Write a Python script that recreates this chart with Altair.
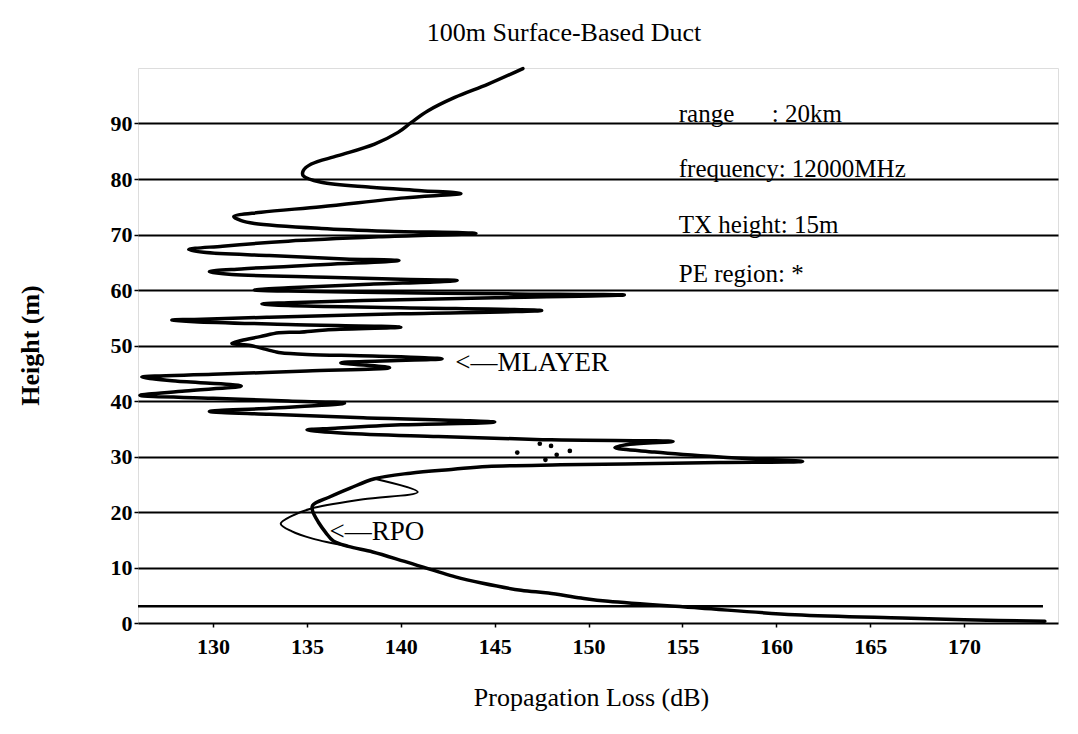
import altair as alt
import pandas as pd

# ---- main PE curve (propagation loss in dB vs height in m), read top to bottom ----
pe_loss = [146.5, 144.65, 142.87, 141.45, 140.56, 139.85, 138.6, 136.65, 135.23, 134.8, 134.8,
           135.76, 138.4, 141.1, 143.2, 140.2, 135.76, 132.56, 131.1, 131.5, 132.2, 135.76, 139.3,
           144.0, 139.0, 134.0, 130.5, 128.7, 129.5, 133.0, 137.0, 139.9, 136.0, 131.5, 129.8,
           131.0, 136.0, 140.0, 143.0, 138.0, 134.0, 132.2, 134.0, 140.0, 146.0, 151.9, 145.0,
           138.0, 134.0, 132.6, 134.0, 140.0, 147.5, 140.0, 133.0, 129.0, 127.8, 129.0, 134.0,
           140.0, 136.0, 134.6, 133.5, 132.5, 131.5, 131.0, 132.0, 132.7, 133.3, 133.6, 135.0,
           138.5, 142.2, 139.0, 136.8, 139.4, 135.0, 130.0, 126.2, 128.0, 131.5, 128.5, 126.1,
           130.0, 134.0, 137.0, 133.0, 129.8, 133.0, 138.0, 145.0, 140.0, 136.5, 135.0, 137.0,
           142.0, 148.0, 154.5, 152.2, 151.4, 153.5, 157.0, 161.4, 157.0, 152.7, 148.5, 144.6,
           142.8, 140.5, 138.6, 137.3, 136.2, 135.3, 135.3, 135.6, 136.0, 136.4, 137.2, 138.5,
           140.2, 142.9, 144.3, 146.4, 147.85, 149.6, 151.05, 155.9, 161.0, 166.7, 170.0, 174.3]
pe_height = [99.9, 97.1, 94.7, 92.3, 90.2, 88.4, 86.3, 84.2, 82.7, 81.5, 80.6,
             79.4, 78.5, 77.9, 77.4, 76.6, 75.0, 74.0, 73.2, 72.5, 72.0, 71.1, 70.6,
             70.2, 69.6, 68.8, 67.9, 67.3, 66.8, 66.2, 65.6, 65.3, 64.6, 63.8, 63.3,
             62.8, 62.3, 61.95, 61.7, 61.0, 60.4, 60.0, 59.8, 59.5, 59.3, 59.1, 58.6,
             58.1, 57.7, 57.5, 57.2, 56.8, 56.3, 55.7, 55.1, 54.7, 54.6, 54.3, 53.8,
             53.3, 52.8, 52.4, 52.3, 51.6, 50.9, 50.4, 50.0, 49.4, 48.9, 48.7, 48.4,
             48.1, 47.6, 47.2, 46.9, 46.0, 45.4, 44.8, 44.3, 43.6, 42.7, 41.8, 41.0,
             40.5, 40.0, 39.6, 38.7, 38.1, 37.6, 37.0, 36.2, 35.7, 35.1, 34.8, 34.2,
             33.6, 33.0, 32.7, 32.2, 31.6, 30.8, 29.9, 29.1, 28.9, 28.7, 28.5, 28.2,
             27.7, 27.0, 26.0, 24.3, 22.7, 21.2, 20.2, 18.2, 16.3, 14.8, 13.8, 12.8,
             11.1, 8.3, 7.2, 5.9, 5.4, 4.5, 3.9, 2.7, 1.5, 0.9, 0.6, 0.3]

# ---- thin loop below the duct (the RPO region) ----
thin_loss = [138.6, 140.9, 138.0, 135.2, 134.2, 133.6, 134.2, 135.3, 137.2]
thin_height = [26.0, 23.6, 22.3, 20.6, 19.3, 17.9, 16.5, 15.2, 13.8]

# ---- scattered PE markers near 30 m ----
dot_loss = [147.4, 148.0, 149.0, 147.7, 148.3, 146.2]
dot_height = [32.3, 31.9, 31.0, 29.4, 30.3, 30.7]

# ---- horizontal reference line at about 3 m ----
ref_height = [3.0]
ref_start = [126.0]
ref_end = [174.2]

# ---- annotations ----
NB = "\u00a0"
info_text = ["range" + NB * 6 + ": 20km", "frequency: 12000MHz", "TX height: 15m", "PE region: *"]
info_loss = [154.8, 154.8, 154.8, 154.8]
info_height = [90.0, 80.0, 70.0, 61.0]

mark_text = ["<\u2014MLAYER", "<\u2014RPO"]
mark_loss = [142.9, 136.2]
mark_height = [46.9, 16.4]

x_ticks = [130, 135, 140, 145, 150, 155, 160, 165, 170]
y_ticks = [0, 10, 20, 30, 40, 50, 60, 70, 80, 90]

FONT = "Liberation Serif"

pe_df = pd.DataFrame({"loss": pe_loss, "height": pe_height, "i": range(len(pe_loss))})
thin_df = pd.DataFrame({"loss": thin_loss, "height": thin_height, "i": range(len(thin_loss))})
dot_df = pd.DataFrame({"loss": dot_loss, "height": dot_height})
ref_df = pd.DataFrame({"x1": ref_start, "x2": ref_end, "h": ref_height})
info_df = pd.DataFrame({"t": info_text, "loss": info_loss, "height": info_height})
mark_df = pd.DataFrame({"t": mark_text, "loss": mark_loss, "height": mark_height})

xscale = alt.Scale(domain=[126, 175], nice=False, zero=False)
yscale = alt.Scale(domain=[0, 100], nice=False, zero=False)

x_axis = alt.Axis(values=x_ticks, grid=False, domain=False, ticks=True, tickSize=4,
                  tickColor="black", tickWidth=1.5, labelFont=FONT, labelFontSize=22,
                  labelFontWeight="bold", labelColor="black", labelPadding=9,
                  title="Propagation Loss (dB)", titleFont=FONT, titleFontSize=26,
                  titleFontWeight="normal", titleColor="black", titleY=74,
                  titleBaseline="middle", titleX=453)
y_axis = alt.Axis(values=y_ticks, grid=True, gridColor="black", gridWidth=2.2, gridOpacity=1,
                  domain=False, ticks=True, tickSize=4, tickColor="black", tickWidth=1.5,
                  labelFont=FONT, labelFontSize=22, labelFontWeight="bold", labelColor="black",
                  labelPadding=2, title="Height (m)", titleFont=FONT, titleFontSize=26,
                  titleFontWeight="bold", titleColor="black", titleAngle=270,
                  titleX=-108, titleY=277, titleBaseline="middle")

base_x = alt.X("loss:Q", scale=xscale, axis=x_axis)
base_y = alt.Y("height:Q", scale=yscale, axis=y_axis)

pe_line = alt.Chart(pe_df).mark_line(color="black", strokeWidth=3.5, strokeJoin="round",
                                     strokeCap="round", interpolate="catmull-rom").encode(
    x=base_x, y=base_y, order="i:Q")
thin_line = alt.Chart(thin_df).mark_line(color="black", strokeWidth=2, strokeJoin="round",
                                         interpolate="catmull-rom").encode(
    x=alt.X("loss:Q", scale=xscale), y=alt.Y("height:Q", scale=yscale), order="i:Q")
dots = alt.Chart(dot_df).mark_circle(color="black", size=22, opacity=1).encode(
    x=alt.X("loss:Q", scale=xscale), y=alt.Y("height:Q", scale=yscale))
ref_rule = alt.Chart(ref_df).mark_rule(color="black", strokeWidth=2.5).encode(
    x=alt.X("x1:Q", scale=xscale), x2="x2:Q", y=alt.Y("h:Q", scale=yscale))
info = alt.Chart(info_df).mark_text(align="left", baseline="alphabetic", dy=-2, font=FONT,
                                    fontSize=25, color="black").encode(
    x=alt.X("loss:Q", scale=xscale), y=alt.Y("height:Q", scale=yscale), text="t:N")
marks = alt.Chart(mark_df).mark_text(align="left", baseline="middle", font=FONT,
                                     fontSize=27, color="black").encode(
    x=alt.X("loss:Q", scale=xscale), y=alt.Y("height:Q", scale=yscale), text="t:N")

chart = alt.layer(ref_rule, thin_line, pe_line, dots, info, marks).properties(
    width=920, height=555,
    title=alt.TitleParams(text="100m Surface-Based Duct", font=FONT, fontSize=26,
                          fontWeight="normal", color="black", anchor="middle", dx=-34,
                          offset=0, baseline="alphabetic"),
    autosize=alt.AutoSizeParams(type="none"),
    padding={"left": 130, "top": 60, "right": 12, "bottom": 103},
).configure_view(stroke="black", strokeWidth=2).configure(background="white")

chart.save("out.html", embed_options={"renderer": "svg", "actions": False})
